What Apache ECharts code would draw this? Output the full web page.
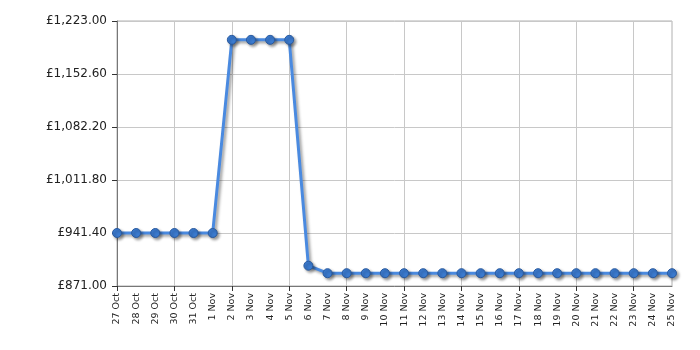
<!DOCTYPE html>
<html>
<head>
<meta charset="utf-8">
<script src="https://cdn.jsdelivr.net/npm/echarts@6/dist/echarts.min.js"></script>
<style>html,body{margin:0;padding:0;background:#fff}#c{width:700px;height:350px}</style>
</head>
<body>
<div id="c"></div>
<script>
const categories = ['27 Oct','28 Oct','29 Oct','30 Oct','31 Oct','1 Nov','2 Nov','3 Nov','4 Nov','5 Nov','6 Nov','7 Nov','8 Nov','9 Nov','10 Nov','11 Nov','12 Nov','13 Nov','14 Nov','15 Nov','16 Nov','17 Nov','18 Nov','19 Nov','20 Nov','21 Nov','22 Nov','23 Nov','24 Nov','25 Nov'];
const prices = [941.4,941.4,941.4,941.4,941.4,941.4,1198,1198,1198,1198,898,888,888,888,888,888,888,888,888,888,888,888,888,888,888,888,888,888,888,888];
const yMin = 871, yMax = 1223, yStep = 70.4;

const chart = echarts.init(document.getElementById('c'));
const fmt = v => '£' + Number(v).toLocaleString('en-GB', {minimumFractionDigits: 2, maximumFractionDigits: 2});
chart.setOption({
  animation: false,
  grid: {left: 117, right: 28, top: 21, bottom: 64, show: true, borderColor: '#b0b0b0', borderWidth: 1, backgroundColor: 'transparent'},
  xAxis: {
    type: 'category', data: categories, boundaryGap: false,
    axisLine: {lineStyle: {color: '#777', width: 1}},
    axisTick: {show: true, interval: i => i % 3 === 0, length: 5, lineStyle: {color: '#333'}},
    axisLabel: {interval: 0, rotate: 90, fontFamily: 'DejaVu Sans', fontSize: 9.5, color: '#222', margin: 7},
    splitLine: {show: true, interval: i => i % 3 === 0, lineStyle: {color: '#c8c8c8', width: 1}}
  },
  yAxis: {
    type: 'value', min: yMin, max: yMax, interval: yStep,
    axisLine: {show: true, lineStyle: {color: '#777', width: 1}},
    axisTick: {show: true, length: 5, lineStyle: {color: '#333'}},
    axisLabel: {formatter: fmt, fontFamily: 'DejaVu Sans', fontSize: 12, color: '#222', margin: 10},
    splitLine: {show: true, lineStyle: {color: '#c8c8c8', width: 1}}
  },
  series: [{
    type: 'line', data: prices,
    symbol: 'circle', symbolSize: 9,
    lineStyle: {color: '#4a8ae0', width: 3, shadowColor: 'rgba(0,0,0,0.4)', shadowBlur: 3, shadowOffsetX: 2, shadowOffsetY: 2},
    itemStyle: {color: '#3b7bd0', borderColor: '#2a5a9e', borderWidth: 1, shadowColor: 'rgba(0,0,0,0.4)', shadowBlur: 3, shadowOffsetX: 2, shadowOffsetY: 2}
  }]
});
</script>
</body>
</html>
